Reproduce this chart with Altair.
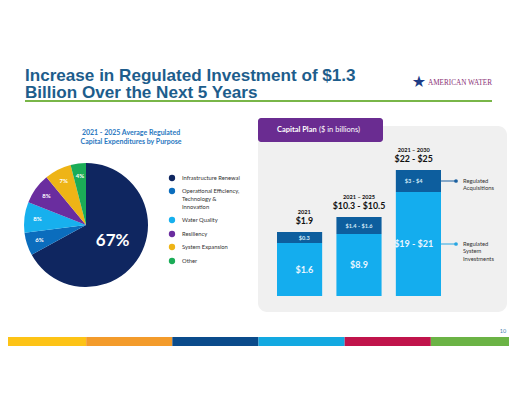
import altair as alt
import pandas as pd

# ---------------- data ----------------
title_lines = ["Increase in Regulated Investment of $1.3", "Billion Over the Next 5 Years"]
brand = "AMERICAN WATER"
pie_title = ["2021 - 2025 Average Regulated", "Capital Expenditures by Purpose"]

purposes = ["Infrastructure Renewal",
            "Operational Efficiency, Technology & Innovation",
            "Water Quality", "Resiliency", "System Expansion", "Other"]
legend_labels = ["Infrastructure Renewal",
                 "Operational Efficiency,\nTechnology &\nInnovation",
                 "Water Quality", "Resiliency", "System Expansion", "Other"]
shares = [67, 6, 8, 8, 7, 4]
purpose_colors = ["#0f2660", "#0b6dbd", "#17b0ee", "#6a2d9f", "#eeb416", "#1bac57"]

panel_title_bold = "Capital Plan"
panel_title_rest = "($ in billions)"
periods = ["2021", "2021 \u2013 2025", "2021 \u2013 2030"]
total_labels = ["$1.9", "$10.3 - $10.5", "$22 - $25"]
system_labels = ["$1.6", "$8.9", "$19 - $21"]
acq_labels = ["$0.3", "$1.4 - $1.6", "$3 - $4"]
# drawn lengths of the source's schematic (not-to-scale) bars
system_len = [5.3, 6.2, 10.4]
acq_len = [1.1, 1.7, 2.2]
series_names = ["Regulated\nAcquisitions", "Regulated\nSystem\nInvestments"]

stripe_colors = ["#fdc316", "#f39b2b", "#0b4b8b", "#13a9e1", "#c0144b", "#6bb345"]
page_number = "10"

# ---------------- helpers ----------------
def X(p):
    return p - 8

def Y(p):
    return p - 8

one = pd.DataFrame({"k": [0]})
FONT = "Lato"

def txt(s, x, y, **kw):
    return alt.Chart(one).mark_text(text=s, **kw).encode(x=alt.value(X(x)), y=alt.value(Y(y)))

def box(x1, x2, y1, y2, **kw):
    return alt.Chart(one).mark_rect(**kw).encode(
        x=alt.value(X(x1)), x2=alt.value(X(x2)), y=alt.value(Y(y1)), y2=alt.value(Y(y2)))

layers = []

# title
layers.append(txt(title_lines[0], 25, 81, align="left", baseline="alphabetic",
                  font="Liberation Sans", fontWeight="bold", fontSize=17.1, color="#1d5d8c"))
layers.append(txt(title_lines[1], 25, 97.5, align="left", baseline="alphabetic",
                  font="Liberation Sans", fontWeight="bold", fontSize=17.1, color="#1d5d8c"))
layers.append(box(25, 492, 100, 102, color="#79b648"))
layers.append(txt("\u2605", 419, 82, align="center", baseline="middle",
                  font="DejaVu Sans", fontSize=16, color="#1d3c86"))
layers.append(txt(brand, 428, 82.5, align="left", baseline="middle",
                  font="Liberation Serif", fontSize=7.2, color="#8a2f76"))

# pie
pie_df = pd.DataFrame({"purpose": purposes, "share": shares, "idx": list(range(len(shares)))})
pie_df["small"] = [f"{s}%" if s < 50 else "" for s in shares]
pie_df["big"] = [f"{s}%" if s >= 50 else "" for s in shares]
cscale = alt.Scale(domain=purposes, range=purpose_colors)
pie_base = alt.Chart(pie_df).encode(
    theta=alt.Theta("share:Q", stack=True),
    order=alt.Order("idx:Q"),
    x=alt.value(X(86)), y=alt.value(Y(225)))
layers.append(pie_base.mark_arc(outerRadius=62).encode(
    color=alt.Color("purpose:N", scale=cscale, legend=None)))
layers.append(pie_base.mark_text(radius=49, font=FONT, fontWeight="bold", fontSize=6,
                                 color="white").encode(text="small:N"))
layers.append(pie_base.mark_text(radius=31, font=FONT, fontWeight="bold", fontSize=17,
                                 color="white").encode(text="big:N"))
layers.append(txt(pie_title[0], 131, 133, align="center", baseline="middle",
                  font=FONT, fontWeight="bold", fontSize=7, color="#2a78bf"))
layers.append(txt(pie_title[1], 131, 142, align="center", baseline="middle",
                  font=FONT, fontWeight="bold", fontSize=7, color="#2a78bf"))

# manual legend (one row per purpose, layout slots)
leg_df = pd.DataFrame({"purpose": purposes, "label": legend_labels})
legend_slots = [178, 191, 220, 234, 247, 261]
for p, slot in zip(purposes, legend_slots):
    row = alt.Chart(leg_df).transform_filter(alt.datum.purpose == p)
    layers.append(row.mark_circle(size=40, opacity=1).encode(
        x=alt.value(X(172)), y=alt.value(Y(slot)),
        color=alt.Color("purpose:N", scale=cscale, legend=None)))
    layers.append(row.mark_text(align="left", baseline="top", dy=-3.5, lineBreak="\n",
                                lineHeight=8, font=FONT, fontSize=5.8,
                                color="#333333").encode(
        x=alt.value(X(182)), y=alt.value(Y(slot)), text="label:N"))

# capital plan panel
layers.append(box(258, 507, 126, 312, color="#f0f0f0", cornerRadius=9))
layers.append(box(258, 383, 118, 142, color="#6a2c91", cornerRadius=3))
layers.append(txt(panel_title_bold, 277, 130, align="left", baseline="middle",
                  font=FONT, fontWeight="bold", fontSize=7.5, color="white"))
layers.append(txt(panel_title_rest, 319, 130, align="left", baseline="middle",
                  font=FONT, fontSize=7.5, color="white"))

bars_df = pd.DataFrame({"period": periods, "sys": system_len, "acq": acq_len,
                        "sys_lbl": system_labels, "acq_lbl": acq_labels,
                        "tot_lbl": total_labels})
xs = alt.Scale(domain=periods, range=[X(277), X(441)], paddingInner=0.24, paddingOuter=0)
ys = alt.Scale(domain=[0, 13], range=[Y(296), Y(166)])
bb = alt.Chart(bars_df).transform_calculate(
    top="datum.sys + datum.acq", zero="0",
    sys_mid="datum.sys / 2", acq_mid="datum.sys + datum.acq / 2")
xe = alt.X("period:N", scale=xs, axis=None)

layers.append(bb.mark_bar(color="#14adee").encode(
    x=xe, y=alt.Y("sys:Q", scale=ys, axis=None), y2="zero:Q"))
layers.append(bb.mark_bar(color="#0d5e9e").encode(
    x=xe, y=alt.Y("top:Q", scale=ys, axis=None), y2="sys:Q"))
layers.append(bb.mark_text(font=FONT, fontWeight="bold", fontSize=9, color="#eaf6ff",
                           baseline="middle").encode(
    x=xe, y=alt.Y("sys_mid:Q", scale=ys, axis=None), text="sys_lbl:N"))
layers.append(bb.mark_text(font=FONT, fontWeight="bold", fontSize=5.6, color="#d6ebf8",
                           baseline="middle").encode(
    x=xe, y=alt.Y("acq_mid:Q", scale=ys, axis=None), text="acq_lbl:N"))
layers.append(bb.mark_text(font=FONT, fontWeight="bold", fontSize=5.6, color="#111111",
                           baseline="middle", dy=-20.5).encode(
    x=xe, y=alt.Y("top:Q", scale=ys, axis=None), text="period:N"))
layers.append(bb.mark_text(font=FONT, fontWeight="bold", fontSize=8.8, color="#111111",
                           baseline="middle", dy=-11).encode(
    x=xe, y=alt.Y("top:Q", scale=ys, axis=None), text="tot_lbl:N"))

# annotations on the last bar
last = bb.transform_filter(alt.datum.period == periods[-1])
xr = alt.X("period:N", scale=xs, bandPosition=1, axis=None)
for field, col, name in [("acq_mid", "#1a5f9f", series_names[0]),
                         ("sys_mid", "#27a6e2", series_names[1])]:
    yy = alt.Y(f"{field}:Q", scale=ys, axis=None)
    layers.append(last.mark_rule(color=col, strokeWidth=1).encode(
        x=xr, x2=alt.value(X(456)), y=yy))
    layers.append(last.mark_circle(color=col, size=14, opacity=1).encode(
        x=alt.value(X(456)), y=yy))
    layers.append(last.mark_text(text=name, align="left", baseline="top", dy=-3.5,
                                 lineBreak="\n", lineHeight=7.5, font=FONT, fontSize=5.8,
                                 color="#333333").encode(x=alt.value(X(463)), y=yy))

# bottom colour stripe and page number
stripe_df = pd.DataFrame({"i0": list(range(6)), "i1": list(range(1, 7)), "c": stripe_colors})
sx = alt.Scale(domain=[0, 6], range=[X(0), X(517)])
layers.append(alt.Chart(stripe_df).mark_rect().encode(
    x=alt.X("i0:Q", scale=sx, axis=None), x2="i1:Q",
    y=alt.value(Y(337)), y2=alt.value(Y(346)),
    color=alt.Color("c:N", scale=None)))
layers.append(txt(page_number, 503, 331, align="center", baseline="middle",
                  font=FONT, fontSize=5.5, color="#4a7fb0"))

chart = alt.layer(*layers).resolve_scale(
    x="independent", y="independent", color="independent", theta="independent"
).properties(
    width=501, height=372, padding=0, background="white",
    autosize=alt.AutoSizeParams(type="none")
).configure_view(stroke=None)

chart.save("out.html", embed_options={"renderer": "svg", "actions": False})
